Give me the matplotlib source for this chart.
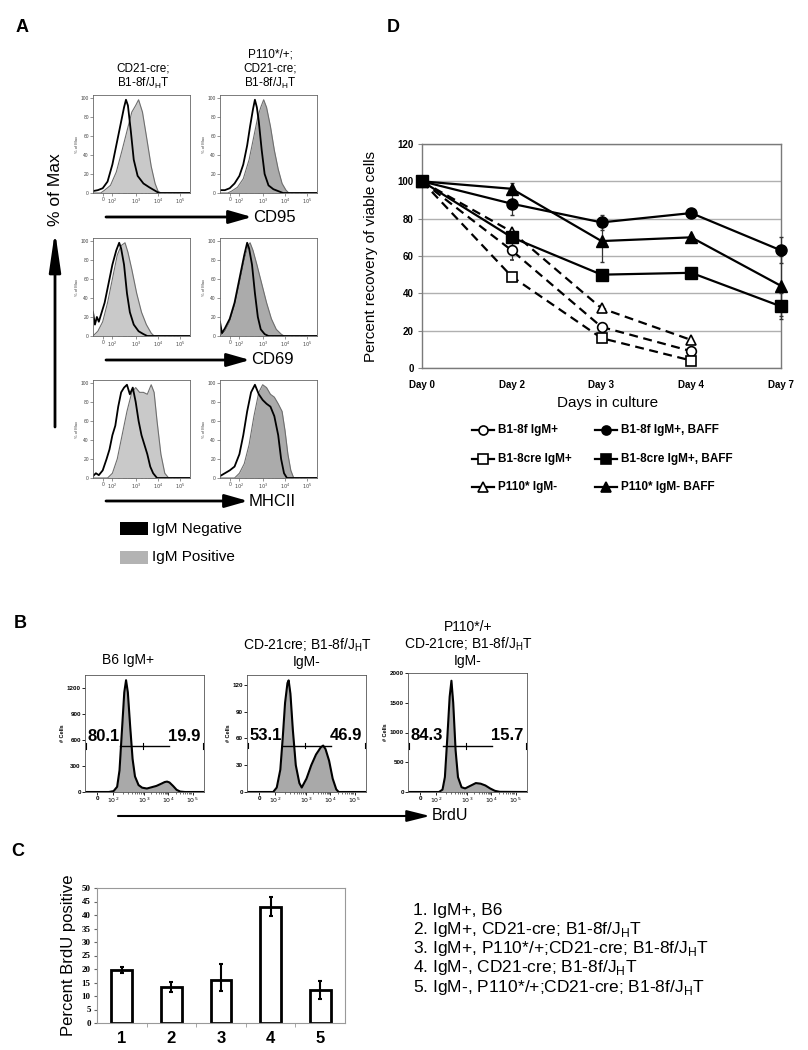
import matplotlib
matplotlib.use("Agg")
import matplotlib.pyplot as plt
import numpy as np

plt.rcParams['font.family'] = ['Liberation Sans', 'DejaVu Sans']

W, H = 808, 1050

# ---------------- Panel A data (x: display position 0-100 on the flow axis, y: % of max)
A_TICKS = [10, 20, 44, 67, 90]
A_TICKLABELS = ['0', '$10^2$', '$10^3$', '$10^4$', '$10^5$']
A_COL_TITLES = ['CD21-cre;\nB1-8f/J$_\\mathregular{H}$T',
                'P110*/+;\nCD21-cre;\nB1-8f/J$_\\mathregular{H}$T']
A_MARKERS = ['CD95', 'CD69', 'MHCII']

CD95_C1_NEG_X = [0, 5, 10, 15, 20, 25, 29, 32, 34, 36, 39, 42, 46, 52, 58, 63, 68, 100]
CD95_C1_NEG_Y = [2, 3, 5, 12, 30, 55, 75, 90, 98, 92, 65, 35, 18, 10, 6, 3, 0, 0]
CD95_C1_POS_X = [0, 8, 12, 18, 24, 30, 35, 40, 44, 47, 51, 55, 60, 64, 67, 70, 100]
CD95_C1_POS_Y = [0, 0, 3, 8, 22, 45, 65, 85, 92, 98, 85, 60, 28, 10, 2, 0, 0]
CD95_C2_NEG_X = [0, 5, 10, 15, 20, 24, 28, 31, 34, 36, 38, 40, 43, 46, 50, 55, 60, 65, 100]
CD95_C2_NEG_Y = [3, 3, 5, 10, 18, 30, 50, 70, 88, 98, 90, 75, 45, 20, 8, 4, 2, 0, 0]
CD95_C2_POS_X = [0, 8, 12, 18, 24, 30, 35, 39, 42, 45, 48, 52, 56, 60, 64, 68, 71, 100]
CD95_C2_POS_Y = [0, 0, 2, 6, 15, 35, 60, 80, 90, 98, 90, 70, 45, 25, 10, 3, 0, 0]

CD69_C1_NEG_X = [0, 2, 4, 6, 9, 12, 16, 20, 24, 27, 29, 32, 35, 38, 42, 47, 52, 56, 100]
CD69_C1_NEG_Y = [25, 12, 20, 15, 25, 35, 55, 75, 90, 98, 92, 75, 45, 25, 12, 5, 2, 0, 0]
CD69_C1_POS_X = [0, 5, 10, 15, 20, 25, 29, 33, 36, 40, 45, 50, 55, 60, 63, 100]
CD69_C1_POS_Y = [0, 5, 15, 35, 60, 85, 95, 98, 88, 70, 45, 25, 12, 3, 0, 0]
CD69_C2_NEG_X = [0, 2, 5, 10, 15, 20, 25, 28, 30, 33, 36, 39, 42, 46, 50, 100]
CD69_C2_NEG_Y = [15, 3, 8, 18, 35, 60, 85, 98, 92, 75, 45, 20, 7, 2, 0, 0]
CD69_C2_POS_X = [0, 5, 10, 15, 20, 25, 29, 31, 34, 38, 43, 48, 53, 58, 63, 66, 100]
CD69_C2_POS_Y = [0, 5, 15, 32, 55, 80, 95, 98, 90, 75, 55, 35, 18, 7, 2, 0, 0]

MHC_C1_NEG_X = [0, 3, 6, 10, 14, 17, 20, 23, 26, 29, 32, 35, 38, 41, 44, 47, 50, 53, 56, 59, 62, 66, 100]
MHC_C1_NEG_Y = [2, 5, 3, 8, 20, 30, 45, 55, 75, 90, 95, 98, 88, 95, 80, 60, 45, 35, 25, 12, 5, 0, 0]
MHC_C1_POS_X = [0, 15, 20, 25, 30, 35, 40, 44, 48, 52, 56, 60, 63, 66, 70, 74, 78, 100]
MHC_C1_POS_Y = [0, 0, 5, 20, 45, 70, 90, 95, 90, 90, 88, 98, 90, 60, 25, 5, 0, 0]
MHC_C2_NEG_X = [0, 5, 10, 15, 20, 24, 28, 32, 36, 40, 44, 48, 52, 56, 60, 63, 66, 69, 100]
MHC_C2_NEG_Y = [2, 5, 8, 12, 25, 45, 70, 90, 98, 88, 82, 78, 75, 65, 45, 20, 5, 0, 0]
MHC_C2_POS_X = [0, 15, 20, 25, 30, 35, 40, 44, 48, 52, 56, 60, 64, 67, 70, 73, 76, 100]
MHC_C2_POS_Y = [0, 0, 5, 15, 35, 65, 90, 98, 95, 88, 85, 78, 70, 50, 25, 8, 0, 0]

A_CURVES = [
    [(CD95_C1_NEG_X, CD95_C1_NEG_Y, CD95_C1_POS_X, CD95_C1_POS_Y),
     (CD95_C2_NEG_X, CD95_C2_NEG_Y, CD95_C2_POS_X, CD95_C2_POS_Y)],
    [(CD69_C1_NEG_X, CD69_C1_NEG_Y, CD69_C1_POS_X, CD69_C1_POS_Y),
     (CD69_C2_NEG_X, CD69_C2_NEG_Y, CD69_C2_POS_X, CD69_C2_POS_Y)],
    [(MHC_C1_NEG_X, MHC_C1_NEG_Y, MHC_C1_POS_X, MHC_C1_POS_Y),
     (MHC_C2_NEG_X, MHC_C2_NEG_Y, MHC_C2_POS_X, MHC_C2_POS_Y)],
]

# ---------------- Panel B data
B_TICKS = [10.4, 23.8, 49.8, 70, 90.4]
B_TITLES = ['B6 IgM+', 'CD-21cre; B1-8f/J$_\\mathregular{H}$T\nIgM-',
            'P110*/+\nCD-21cre; B1-8f/J$_\\mathregular{H}$T\nIgM-']
B6_X = [0, 20, 24, 27, 29, 31, 33, 34.5, 36, 38, 40, 42, 45, 48, 52, 56, 60, 64, 67, 69, 71, 74, 77, 80, 84, 100]
B6_Y = [0, 0, 10, 60, 250, 700, 1150, 1290, 1150, 750, 380, 180, 80, 50, 40, 55, 70, 95, 115, 120, 110, 70, 25, 5, 0, 0]
CRE_X = [0, 22, 25, 28, 30, 32, 34, 35, 36.5, 38.5, 41, 44, 46, 50, 54, 58, 62, 64, 66, 69, 72, 75, 77, 100]
CRE_Y = [0, 0, 5, 25, 60, 100, 122, 125, 110, 70, 30, 10, 5, 15, 30, 42, 50, 52, 48, 35, 15, 3, 0, 0]
P110_X = [0, 26, 29, 31, 33, 35, 36.5, 38, 40, 42, 45, 48, 53, 57, 61, 65, 69, 73, 77, 100]
P110_Y = [0, 0, 40, 250, 900, 1600, 1870, 1500, 700, 250, 80, 60, 110, 150, 140, 110, 60, 20, 3, 0]
B_YMAX = [1350, 131, 2000]
B_YTICKS = [[0, 300, 600, 900, 1200], [0, 30, 60, 90, 120], [0, 500, 1000, 1500, 2000]]
B_GATE = [530, 52, 773]
B_LEFT_PCT = ['80.1', '53.1', '84.3']
B_RIGHT_PCT = ['19.9', '46.9', '15.7']

# ---------------- Panel C data
C_GROUPS = ['1', '2', '3', '4', '5']
C_VALUES = [19.6, 13.4, 16.0, 43.0, 12.1]
C_ERR_LOW = [1.0, 1.8, 4.0, 3.3, 3.2]
C_ERR_HIGH = [1.0, 1.8, 6.0, 3.5, 3.4]
C_KEY = ['1. IgM+, B6',
         '2. IgM+, CD21-cre; B1-8f/J$_\\mathregular{H}$T',
         '3. IgM+, P110*/+;CD21-cre; B1-8f/J$_\\mathregular{H}$T',
         '4. IgM-, CD21-cre; B1-8f/J$_\\mathregular{H}$T',
         '5. IgM-, P110*/+;CD21-cre; B1-8f/J$_\\mathregular{H}$T']

# ---------------- Panel D data
DAYS = ['Day 0', 'Day 2', 'Day 3', 'Day 4', 'Day 7']
B18F = [100, 63, 22, 9]
B18F_ERR = [0, 5, 1, 1]
B18CRE = [100, 49, 16, 4]
B18CRE_ERR = [0, 1, 1, 1]
P110 = [100, 73, 32, 15]
P110_ERR = [0, 1, 1, 1]
B18F_BAFF = [100, 88, 78, 83, 63]
B18F_BAFF_ERR = [0, 6, 4, 1, 7]
B18CRE_BAFF = [100, 70, 50, 51, 33]
B18CRE_BAFF_ERR = [0, 3, 1, 1, 7]
P110_BAFF = [100, 96, 68, 70, 44]
P110_BAFF_ERR = [0, 3, 11, 1, 16]

fig = plt.figure(figsize=(W / 100, H / 100), dpi=100)


def add_ax(l, t, r, b):
    return fig.add_axes([l / W, 1 - b / H, (r - l) / W, (b - t) / H])


def minor_positions(major):
    pos = []
    for i in range(1, len(major) - 1):
        a, b = major[i], major[i + 1]
        for m in range(2, 10):
            pos.append(a + (b - a) * np.log10(m))
    return pos


# ---------------- Panel A
A_BOXES_X = [(93, 190), (220, 317)]
A_BOXES_Y = [(95, 193), (238, 336), (380, 478)]
POS_FILL = ['#c9c9c9', '#ababab']
for r, (t, b) in enumerate(A_BOXES_Y):
    for c, (l, rr) in enumerate(A_BOXES_X):
        ax = add_ax(l, t, rr, b)
        nx, ny, px, py = A_CURVES[r][c]
        ax.fill_between(px, py, 0, color=POS_FILL[c], lw=0)
        ax.plot(px, py, color='#6e6e6e', lw=0.8)
        ax.plot(nx, ny, color='black', lw=1.3)
        ax.set_xlim(0, 100)
        ax.set_ylim(0, 103)
        ax.set_xticks(A_TICKS)
        ax.set_xticklabels(A_TICKLABELS)
        ax.set_xticks(minor_positions(A_TICKS), minor=True)
        ax.set_yticks([0, 20, 40, 60, 80, 100])
        ax.tick_params(labelsize=3.5, length=2, width=0.4, pad=1, colors='#444')
        ax.tick_params(which='minor', length=1, width=0.3, colors='#444')
        ax.set_ylabel('% of Max', fontsize=3, labelpad=1, color='#444')
        for s in ax.spines.values():
            s.set_color('#666')
            s.set_linewidth(0.6)

# ---------------- Panel B
B_BOXES = [(85, 675, 204, 792), (247, 675, 366, 792), (408, 673, 527, 792)]
B_CURVES = [(B6_X, B6_Y), (CRE_X, CRE_Y), (P110_X, P110_Y)]
for i, (l, t, r, b) in enumerate(B_BOXES):
    ax = add_ax(l, t, r, b)
    x, y = B_CURVES[i]
    ax.fill_between(x, y, 0, color='#a9a9a9', lw=0)
    ax.plot(x, y, color='black', lw=1.5)
    ax.set_xlim(0, 100)
    ax.set_ylim(0, B_YMAX[i])
    ax.set_xticks(B_TICKS)
    ax.set_xticklabels(['0', '$10^2$', '$10^3$', '$10^4$', '$10^5$'])
    ax.set_xticks(minor_positions(B_TICKS), minor=True)
    ax.set_yticks(B_YTICKS[i])
    ax.tick_params(labelsize=4.5, length=2, width=0.6, pad=1)
    ax.tick_params(which='minor', length=1.2, width=0.4)
    for lab in ax.get_xticklabels() + ax.get_yticklabels():
        lab.set_fontweight('bold')
    ax.set_ylabel('# Cells', fontsize=4, fontweight='bold', labelpad=1)
    for s in ax.spines.values():
        s.set_color('#555')
        s.set_linewidth(0.6)
    g = B_GATE[i]
    ax.plot([29, 71], [g, g], color='black', lw=1.0)
    ax.plot([49, 49], [g - B_YMAX[i] * 0.025, g + B_YMAX[i] * 0.025], color='black', lw=0.8)
    ax.plot([0.8, 0.8], [g - B_YMAX[i] * 0.025, g + B_YMAX[i] * 0.025], color='black', lw=0.8)
    ax.plot([99.2, 99.2], [g - B_YMAX[i] * 0.025, g + B_YMAX[i] * 0.025], color='black', lw=0.8)
    ax.text(2, g + B_YMAX[i] * 0.085, B_LEFT_PCT[i], fontsize=12, fontweight='bold',
            ha='left', va='center')
    ax.text(97, g + B_YMAX[i] * 0.085, B_RIGHT_PCT[i], fontsize=12, fontweight='bold',
            ha='right', va='center')

# ---------------- Panel C
axc = add_ax(97, 888, 345, 1023)
xc = np.arange(1, len(C_GROUPS) + 1)
axc.bar(xc, C_VALUES, width=0.42, color='white', edgecolor='black', linewidth=2, zorder=2)
axc.errorbar(xc, C_VALUES, yerr=[C_ERR_LOW, C_ERR_HIGH], fmt='none', ecolor='black',
             elinewidth=1.5, capsize=1.5, capthick=1.5, zorder=3)
axc.set_xlim(0.5, 5.5)
axc.set_ylim(0, 50)
axc.set_yticks(range(0, 51, 5))
axc.set_xticks(xc)
axc.set_xticklabels(C_GROUPS, fontsize=12, fontweight='bold')
axc.set_xticks(np.arange(1.5, 5.5, 1), minor=True)
axc.tick_params(axis='x', which='major', length=0, pad=6)
axc.tick_params(axis='x', which='minor', length=3, color='#999')
axc.tick_params(axis='y', length=2.5, color='#666', pad=2)
for lab in axc.get_yticklabels():
    lab.set_fontfamily('Liberation Serif')
    lab.set_fontweight('bold')
    lab.set_fontsize(6.5)
axc.set_ylabel('Percent BrdU positive', fontsize=12, labelpad=4)
for s in axc.spines.values():
    s.set_color('#999')
    s.set_linewidth(0.8)

# ---------------- Panel D
axd = add_ax(422, 144, 781, 368)
xd = np.arange(len(DAYS))
axd.set_xlim(0, len(DAYS) - 1)
axd.set_ylim(0, 120)
axd.set_yticks(range(0, 121, 20))
axd.yaxis.grid(True, color='#b0b0b0', lw=1.0, zorder=0)
axd.set_axisbelow(True)
open_kw = dict(color='black', lw=1.6, ls=(0, (4, 2.5)), mfc='white', mec='black', mew=1.2,
               ms=7, elinewidth=0.9, capsize=1.5, ecolor='#333', zorder=4, clip_on=False)
fill_kw = dict(color='black', lw=1.6, ls='-', mfc='black', mec='black', ms=8,
               elinewidth=0.9, capsize=1.5, ecolor='#333', zorder=5, clip_on=False)
axd.errorbar(xd[:4], B18F, yerr=B18F_ERR, marker='o', **open_kw)
axd.errorbar(xd[:4], B18CRE, yerr=B18CRE_ERR, marker='s', **open_kw)
axd.errorbar(xd[:4], P110, yerr=P110_ERR, marker='^', **open_kw)
axd.errorbar(xd, B18F_BAFF, yerr=B18F_BAFF_ERR, marker='o', **fill_kw)
axd.errorbar(xd, B18CRE_BAFF, yerr=B18CRE_BAFF_ERR, marker='s', **fill_kw)
axd.errorbar(xd, P110_BAFF, yerr=P110_BAFF_ERR, marker='^', **fill_kw)
axd.set_xticks(xd)
axd.set_xticklabels(DAYS, fontsize=7, fontweight='bold')
axd.tick_params(axis='x', length=0, pad=9)
axd.tick_params(axis='y', length=3, color='#888', labelsize=7, pad=3)
for lab in axd.get_yticklabels():
    lab.set_fontweight('bold')
for s in axd.spines.values():
    s.set_color('#7a7a7a')
    s.set_linewidth(1.0)
axd.set_ylabel('Percent recovery of viable cells', fontsize=11, labelpad=14)

# ---------------- overlay for labels, arrows, legends
ov = fig.add_axes([0, 0, 1, 1], zorder=20)
ov.set_xlim(0, W)
ov.set_ylim(H, 0)
ov.axis('off')

for lab, (x, y) in zip('ABCD', [(22, 28), (20, 623), (18, 852), (393, 27)]):
    ov.text(x, y, lab, fontsize=13, fontweight='bold', ha='center', va='center')

# Panel A titles
ov.text(143, 77, A_COL_TITLES[0], fontsize=8.5, ha='center', va='center', linespacing=1.15)
ov.text(270, 70, A_COL_TITLES[1], fontsize=8.5, ha='center', va='center', linespacing=1.15)

arrow_h = dict(arrowstyle='-|>,head_length=1.4,head_width=0.4', mutation_scale=10,
               lw=2, color='black', shrinkA=0, shrinkB=0)
for (y, xe, name) in [(217, 252, A_MARKERS[0]), (360, 250, A_MARKERS[1]), (501, 248, A_MARKERS[2])]:
    ov.annotate('', xy=(xe, y), xytext=(106, y), arrowprops=arrow_h)
    ov.text(xe + 1, y, name, fontsize=12, ha='left', va='center')

ov.annotate('', xy=(55, 231), xytext=(55, 427),
            arrowprops=dict(arrowstyle='-|>,head_length=2.4,head_width=0.35', mutation_scale=10,
                            lw=2, color='black', shrinkA=0, shrinkB=0))
ov.text(55, 190, '% of Max', fontsize=12.5, rotation=90, ha='center', va='center')

ov.add_patch(plt.Rectangle((120, 522), 28, 13, color='black', lw=0))
ov.text(152, 528.5, 'IgM Negative', fontsize=11, ha='left', va='center')
ov.add_patch(plt.Rectangle((120, 551), 28, 13, color='#b3b3b3', lw=0))
ov.text(152, 557.5, 'IgM Positive', fontsize=11, ha='left', va='center')

# Panel B titles and arrow
ov.text(128, 660, B_TITLES[0], fontsize=10, ha='center', va='center')
ov.text(307, 653, B_TITLES[1], fontsize=10, ha='center', va='center', linespacing=1.1)
ov.text(468, 644, B_TITLES[2], fontsize=10, ha='center', va='center', linespacing=1.1)
ov.annotate('', xy=(430, 816), xytext=(118, 816),
            arrowprops=dict(arrowstyle='-|>,head_length=1.4,head_width=0.35', mutation_scale=10,
                            lw=1.5, color='black', shrinkA=0, shrinkB=0))
ov.text(432, 816, 'BrdU', fontsize=11.5, ha='left', va='center')

# Panel C key
for k, line in enumerate(C_KEY):
    ov.text(413, 910 + k * 19.3, line, fontsize=12.5, ha='left', va='center')

# Panel D x label and legend
ov.text(608, 403, 'Days in culture', fontsize=11, ha='center', va='center')
legend_entries = [
    (472, 430, 'o', 'white', 'B1-8f IgM+'),
    (472, 459, 's', 'white', 'B1-8cre IgM+'),
    (472, 487, '^', 'white', 'P110* IgM-'),
    (595, 430, 'o', 'black', 'B1-8f IgM+, BAFF'),
    (595, 459, 's', 'black', 'B1-8cre IgM+, BAFF'),
    (595, 487, '^', 'black', 'P110* IgM- BAFF'),
]
for (x0, y0, mk, fc, name) in legend_entries:
    ov.plot([x0, x0 + 22], [y0, y0], color='black', lw=1.6)
    ov.plot([x0 + 11], [y0], marker=mk, mfc=fc, mec='black', mew=1.2, ms=6.5)
    ov.text(x0 + 26, y0, name, fontsize=8.5, fontweight='bold', ha='left', va='center')

fig.savefig('out.png', dpi=100)
